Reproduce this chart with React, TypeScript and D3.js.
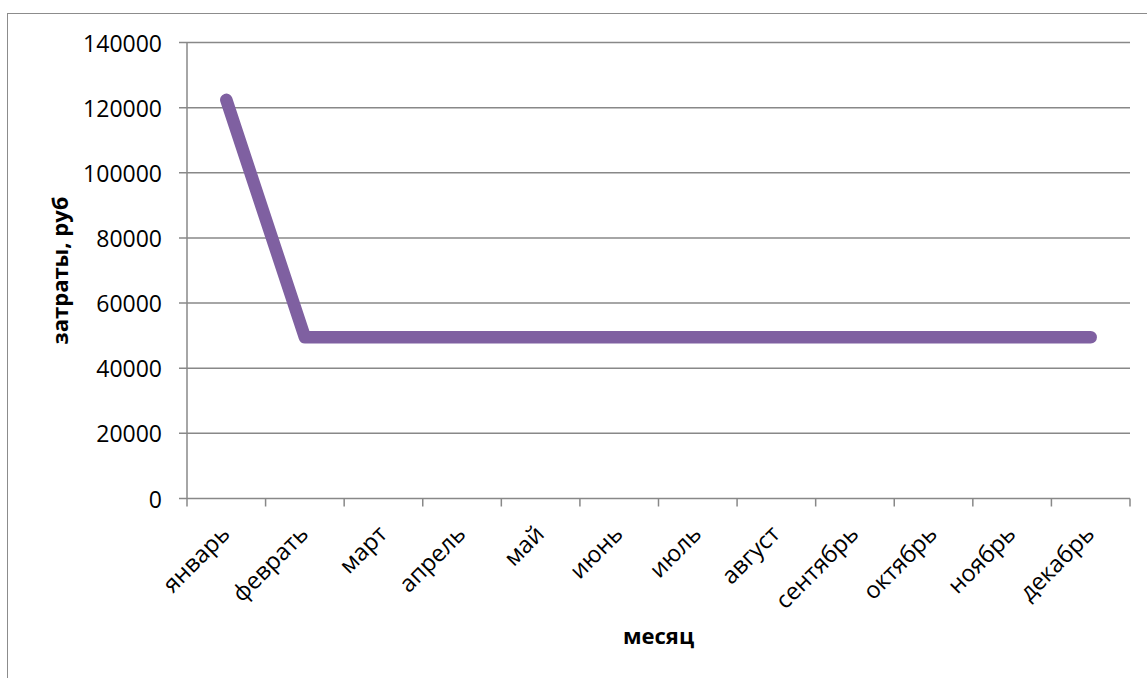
import React from "react";
import * as d3 from "d3";

// Monthly expenses, rubles
const months = [
  "январь", "феврать", "март", "апрель", "май", "июнь",
  "июль", "август", "сентябрь", "октябрь", "ноябрь", "декабрь",
];
const costs = [122400, 49500, 49500, 49500, 49500, 49500, 49500, 49500, 49500, 49500, 49500, 49500];
const yTicks = [0, 20000, 40000, 60000, 80000, 100000, 120000, 140000];

const W = 1147;
const H = 678;
const left = 187;
const right = 1130;
const top = 42.5;
const bottom = 498.5;

const FONT = "'Open Sans', 'Noto Sans', sans-serif";
const GRID = "#888888";

export default function App() {
  const x = d3.scaleBand<string>().domain(months).range([left, right]).paddingInner(0).paddingOuter(0);
  const y = d3.scaleLinear().domain([0, 140000]).range([bottom, top]);
  const cx = (m: string) => (x(m) as number) + x.bandwidth() / 2;

  const line = d3
    .line<number>()
    .x((_, i) => cx(months[i]))
    .y((d) => y(d));

  const tickXs = months.map((m) => x(m) as number).concat([right]);

  return (
    <svg
      width={W}
      height={H}
      style={{ position: "absolute", left: 0, top: 0, display: "block", background: "#fff" }}
    >
      {/* chart frame */}
      <rect x={7.5} y={13.5} width={1300} height={900} fill="none" stroke="#8c8c8c" strokeWidth={1} />

      {/* horizontal gridlines and y tick marks */}
      {yTicks.map((t) => (
        <g key={t}>
          <line x1={left - 8} x2={right} y1={y(t)} y2={y(t)} stroke={GRID} strokeWidth={1.5} />
          <text
            x={162}
            y={y(t)}
            textAnchor="end"
            dominantBaseline="central"
            fontFamily={FONT}
            fontSize={23}
            fill="#000"
          >
            {t}
          </text>
        </g>
      ))}

      {/* y axis */}
      <line x1={left} x2={left} y1={top} y2={bottom} stroke={GRID} strokeWidth={1.5} />

      {/* x tick marks */}
      {tickXs.map((tx, i) => (
        <line key={i} x1={tx} x2={tx} y1={bottom} y2={bottom + 8} stroke={GRID} strokeWidth={1.5} />
      ))}

      {/* x tick labels, slanted */}
      {months.map((m) => (
        <g key={m} transform={`translate(${cx(m) + 5},${bottom + 37})`}>
          <text transform="rotate(-45)" textAnchor="end" fontFamily={FONT} fontSize={23.5} fill="#000">
            {m}
          </text>
        </g>
      ))}

      {/* series */}
      <path
        d={line(costs) as string}
        fill="none"
        stroke="#7F60A1"
        strokeWidth={12.5}
        strokeLinecap="round"
        strokeLinejoin="round"
      />

      {/* axis titles */}
      <text
        transform={`translate(68,${(top + bottom) / 2}) rotate(-90)`}
        textAnchor="middle"
        fontFamily={FONT}
        fontWeight="bold"
        fontSize={22}
        fill="#000"
      >
        затраты, руб
      </text>
      <text
        x={(left + right) / 2}
        y={644}
        textAnchor="middle"
        fontFamily={FONT}
        fontWeight="bold"
        fontSize={22}
        fill="#000"
      >
        месяц
      </text>
    </svg>
  );
}
